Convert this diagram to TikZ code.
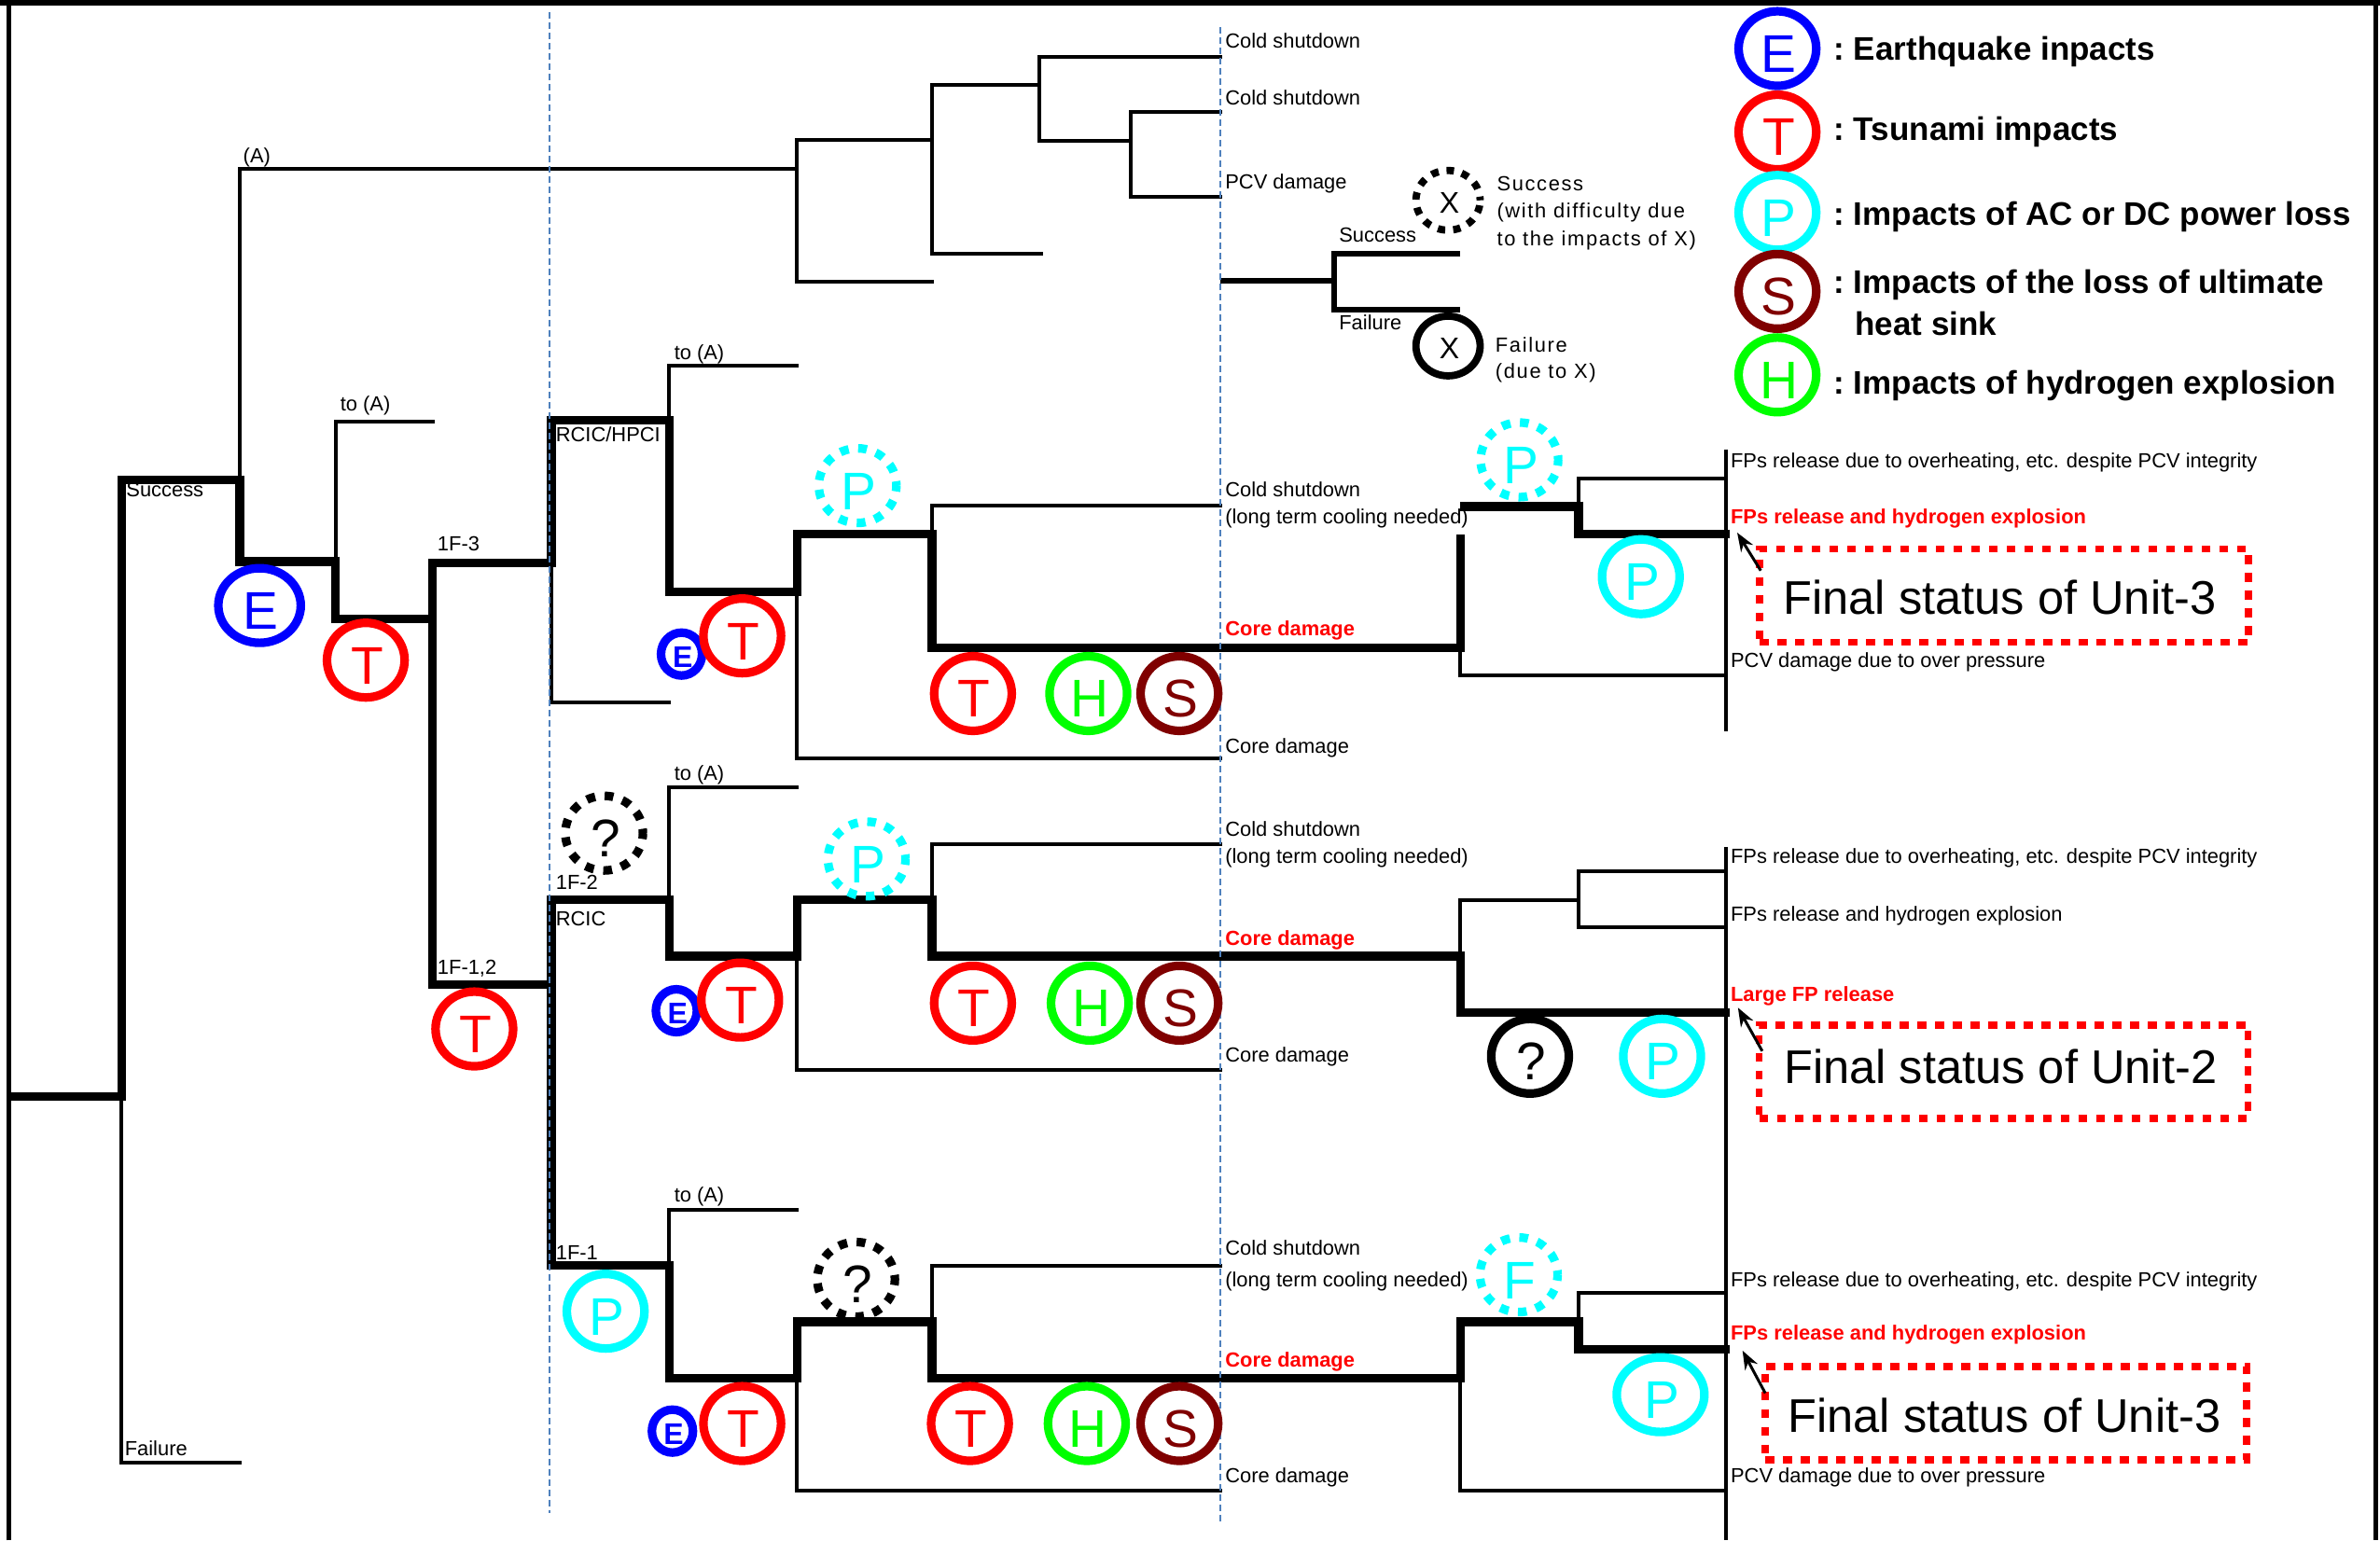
\documentclass[tikz,border=0pt]{standalone}
\usepackage{fontspec}
\setmainfont{Liberation Sans}
\newfontfamily\widefont[LetterSpace=7.5]{Liberation Sans}
\usetikzlibrary{shapes.geometric,arrows.meta}
\def\uu{0.8135pt}
\definecolor{cE}{RGB}{0,0,255}
\definecolor{cT}{RGB}{255,0,0}
\definecolor{cP}{RGB}{0,255,255}
\definecolor{cS}{RGB}{128,0,0}
\definecolor{cH}{RGB}{0,255,0}
\definecolor{guide}{RGB}{79,129,189}
\tikzset{
  tl/.style={line width=2pt,line cap=rect,line join=miter},
  tk/.style={line width=4.6pt,line cap=rect,line join=miter},
  evbase/.style={ellipse,inner sep=0pt,outer sep=0pt,line width=4.6pt,minimum width=41.6pt,minimum height=40pt,text height=25.4pt,text depth=0pt,font=\fontsize{28.4}{28.4}\selectfont,execute at begin node={\hspace*{1.4pt}}},
  ev/.style={evbase,draw=#1,text=#1},
  evd/.style={evbase,draw=#1,text=#1,dash pattern=on 4.7pt off 5.1pt,dash phase=2.35pt},
  evs/.style={ev=cE,line width=4.6pt,minimum width=22pt,minimum height=23pt,text height=14pt,font=\fontsize{16}{16}\selectfont\bfseries,execute at begin node={}},
  evx/.style={line width=3.9pt,minimum width=34.4pt,minimum height=32pt,text height=13.5pt,font=\fontsize{16}{16}\selectfont,execute at begin node={}},
  lab/.style={anchor=west,inner sep=0pt,text height=9.1pt,text depth=2.5pt,font=\fontsize{10.95}{11}\selectfont},
  labw/.style={lab,font=\fontsize{10.95}{11}\widefont},
  labr/.style={lab,text=cT,font=\fontsize{10.95}{11}\selectfont\bfseries},
  leg/.style={anchor=west,inner sep=0pt,text height=14.6pt,text depth=4pt,font=\fontsize{17.5}{19}\selectfont\bfseries},
  fin/.style={draw=cT,line width=3.9pt,dash pattern=on 4.8pt off 4.7pt,inner sep=0pt,font=\fontsize{25.3}{27}\selectfont,minimum width=262pt,minimum height=50pt},
  arr/.style={-{Stealth[length=10pt,width=7.5pt]},line width=1.5pt},
  guideline/.style={guide,line width=0.7pt,dash pattern=on 3.5pt off 2pt},
  frameline/.style={line width=2.4pt},
}
\begin{document}
\begin{tikzpicture}[x=\uu,y=-\uu]
\useasboundingbox (0,0) rectangle (1568,1015);
\fill[white] (0,0) rectangle (1568,1015);
% frame
\coordinate (fa) at (6,1015); \coordinate (fb) at (6,1.8); \coordinate (fc) at (1565,1.8); \coordinate (fd) at (1565,1015); \coordinate (fe) at (0,1.8); \coordinate (ff) at (1568,1.8);
\draw[frameline] (fa) -- (fb);
\draw[line width=3.1pt] (fe) -- (ff);
\draw[frameline] (fc) -- (fd);
% labels touched by the thick lines
\node[lab] (tS) at (83,323) {Success};
\node[lab] (tRH) at (366,287) {RCIC/HPCI};
% ---- junctions, left part
\coordinate (r0) at (7,722.5); \coordinate (r1) at (80,722.5); \coordinate (r2) at (80,316);
\coordinate (fl) at (80,964); \coordinate (fm) at (158,964);
\coordinate (e0) at (158,316); \coordinate (e1) at (158,370); \coordinate (e2) at (221,370);
\coordinate (a0) at (158,111.5); \coordinate (a1) at (525,111.5);
\coordinate (t0) at (221,408); \coordinate (t1) at (285,408); \coordinate (t2) at (221,278); \coordinate (t3) at (285,278);
\coordinate (u3a) at (285,371); \coordinate (u3b) at (363.3,371);
\coordinate (u12a) at (285,649); \coordinate (u12b) at (363.3,649);
\coordinate (u2a) at (363.3,593); \coordinate (u1a) at (363.3,834);
\draw[tl] (r1) -- (fl) -- (fm);
\draw[tl] (e0) -- (a0) -- (a1);
\draw[tl] (e2) -- (t2) -- (t3);
\draw[tk] (r0) -- (r1) -- (r2) -- (e0) -- (e1) -- (e2) -- (t0) -- (t1);
\draw[tk] (u3b) -- (u3a) -- (u12a) -- (u12b);
\draw[tk] (u2a) -- (u1a);
% ---- top branch
\coordinate (b0) at (525,92.3); \coordinate (b1) at (525,185.5); \coordinate (b2) at (614,185.5); \coordinate (b3) at (614,92.3);
\coordinate (c0) at (614,55.7); \coordinate (c1) at (614,167); \coordinate (c2) at (686,167); \coordinate (c3) at (685,55.7);
\coordinate (d0) at (685,37.3); \coordinate (d1) at (804,37.3); \coordinate (d2) at (685,92.6); \coordinate (d3) at (745,92.6);
\coordinate (d4) at (745,74); \coordinate (d5) at (804,74); \coordinate (d6) at (745,130); \coordinate (d7) at (804,130);
\draw[tl] (b2) -- (b1) -- (b0) -- (b3);
\draw[tl] (c3) -- (c0) -- (c1) -- (c2);
\draw[tl] (d1) -- (d0) -- (d2) -- (d3);
\draw[tl] (d5) -- (d4) -- (d6) -- (d7);
\coordinate (x0) at (804,185); \coordinate (x1) at (879,185); \coordinate (x2) at (879,167); \coordinate (x3) at (962,167); \coordinate (x4) at (879,204); \coordinate (x5) at (962,204);
\draw[line width=3pt,line cap=butt] (x0) -- (x1);
\draw[line width=3pt,line cap=butt,line join=miter] (x3) -- (x2) -- (x4) -- (x5);
% ---- unit 3 (1F-3)
\coordinate (f0) at (363.3,277); \coordinate (f1) at (441,277); \coordinate (f2) at (441,390); \coordinate (f3) at (525,390);
\coordinate (f4) at (441,241); \coordinate (f5) at (525,241); \coordinate (f6) at (363.3,463); \coordinate (f7) at (441,463);
\coordinate (g0) at (525,352); \coordinate (g1) at (614,352); \coordinate (g2) at (614,427); \coordinate (g3) at (962,427);
\coordinate (g4) at (525,500); \coordinate (g5) at (804,500); \coordinate (g6) at (614,333); \coordinate (g7) at (804,333);
\coordinate (h0) at (962,355); \coordinate (h1) at (965,333.8); \coordinate (h2) at (1040,333.8); \coordinate (h3) at (1040,352); \coordinate (h4) at (1137,352);
\coordinate (h5) at (1040,315.3); \coordinate (h6) at (1137,315.3); \coordinate (h7) at (962,445); \coordinate (h8) at (1137,445);
\coordinate (v0) at (1137,296); \coordinate (v1) at (1137,482);
\draw[tl] (f1) -- (f4) -- (f5);
\draw[tl] (u3b) -- (f6) -- (f7);
\draw[tl] (f3) -- (g4) -- (g5);
\draw[tl] (g1) -- (g6) -- (g7);
\draw[tl] (g3) -- (h7) -- (h8);
\draw[tl] (h2) -- (h5) -- (h6);
\draw[tk] (u3b) -- (f0) -- (f1) -- (f2) -- (f3) -- (g0) -- (g1) -- (g2) -- (g3) -- (h0);
\draw[tk] (h1) -- (h2) -- (h3) -- (h4);
\draw[line width=2pt] (v0) -- (v1);
% ---- unit 2
\coordinate (k0) at (441,593); \coordinate (k1) at (441,630); \coordinate (k2) at (525,630); \coordinate (k3) at (441,519); \coordinate (k4) at (525,519);
\coordinate (l0) at (525,593); \coordinate (l1) at (614,593); \coordinate (l2) at (614,630); \coordinate (l3) at (962,630); \coordinate (l4) at (525,705); \coordinate (l5) at (804,705);
\coordinate (l6) at (614,556); \coordinate (l7) at (804,556);
\coordinate (m0) at (962,667); \coordinate (m1) at (1137,667); \coordinate (m2) at (962,593); \coordinate (m3) at (1040,593);
\coordinate (m4) at (1040,574); \coordinate (m5) at (1137,574); \coordinate (m6) at (1040,611); \coordinate (m7) at (1137,611);
\coordinate (v2) at (1137,558); \coordinate (v3) at (1137,1015);
\draw[tl] (k0) -- (k3) -- (k4);
\draw[tl] (k2) -- (l4) -- (l5);
\draw[tl] (l1) -- (l6) -- (l7);
\draw[tl] (l3) -- (m2) -- (m3);
\draw[tl] (m5) -- (m4) -- (m6) -- (m7);
\draw[tk] (u2a) -- (k0) -- (k1) -- (k2) -- (l0) -- (l1) -- (l2) -- (l3) -- (m0) -- (m1);
\draw[line width=2pt] (v2) -- (v3);
% ---- unit 1
\coordinate (n0) at (441,834); \coordinate (n1) at (441,908); \coordinate (n2) at (525,908); \coordinate (n3) at (441,797); \coordinate (n4) at (525,797);
\coordinate (o0) at (525,871); \coordinate (o1) at (614,871); \coordinate (o2) at (614,908); \coordinate (o3) at (962,908); \coordinate (o4) at (525,982); \coordinate (o5) at (804,982);
\coordinate (o6) at (614,834); \coordinate (o7) at (804,834);
\coordinate (q0) at (962,871); \coordinate (q1) at (1040,871); \coordinate (q2) at (1040,889); \coordinate (q3) at (1137,889);
\coordinate (q4) at (1040,852); \coordinate (q5) at (1137,852); \coordinate (q6) at (962,982); \coordinate (q7) at (1137,982);
\draw[tl] (n0) -- (n3) -- (n4);
\draw[tl] (n2) -- (o4) -- (o5);
\draw[tl] (o1) -- (o6) -- (o7);
\draw[tl] (o3) -- (q6) -- (q7);
\draw[tl] (q1) -- (q4) -- (q5);
\draw[tk] (u1a) -- (n0) -- (n1) -- (n2) -- (o0) -- (o1) -- (o2) -- (o3) -- (q0) -- (q1) -- (q2) -- (q3);
% guides, above the tree
\coordinate (ga) at (362,8); \coordinate (gb) at (362,997); \coordinate (gc) at (804,18); \coordinate (gd) at (804,1005);
\draw[guideline] (ga) -- (gb);
\draw[guideline] (gc) -- (gd);
% ---- event circles
\node[ev=cE,minimum width=44.2pt] (E1) at (171,399) {E};
\node[ev=cT] (T1) at (241,435) {T};
\node[ev=cT] (T2) at (312.5,678) {T};
\node[evs] (E3a) at (449,431) {E};
\node[ev=cT] (T3a) at (489,419) {T};
\node[evd=cP] (P3a) at (565,320) {P};
\node[ev=cT] (T3b) at (641,457) {T};
\node[ev=cH] (H3) at (717,457) {H};
\node[ev=cS] (S3) at (777,457) {S};
\node[evd=cP] (P3b) at (1001,303) {P};
\node[ev=cP] (P3c) at (1081,380) {P};
\node[evd=black] (Q2a) at (398,549) {?};
\node[evs] (E2a) at (445.6,666) {E};
\node[ev=cT] (T2a) at (487.6,659) {T};
\node[evd=cP] (P2a) at (571,566) {P};
\node[ev=cT] (T2b) at (641,661) {T};
\node[ev=cH] (H2) at (718,661) {H};
\node[ev=cS] (S2) at (777,661) {S};
\node[ev=black] (Q2b) at (1008,696) {?};
\node[ev=cP] (P2b) at (1095,696) {P};
\node[ev=cP] (P1a) at (399,864) {P};
\node[evs] (E1a) at (443,943) {E};
\node[ev=cT] (T1a) at (489,938) {T};
\node[evd=black] (Q1a) at (564,843) {?};
\node[ev=cT] (T1b) at (639,938) {T};
\node[ev=cH] (H1) at (716,938) {H};
\node[ev=cS] (S1) at (777,938) {S};
\node[evd=cP] (P1b) at (1000.6,840) {F};
\node[ev=cP,minimum width=47pt] (P1c) at (1094,919) {P};
\node[evd=black,evx,dash pattern=on 4pt off 4.3pt,dash phase=2pt] (Xd) at (954,132) {X};
\node[ev=black,evx] (Xs) at (954,228) {X};
% ---- legend
\node[ev=cE] (LE) at (1171,32) {E};
\node[ev=cT] (LT) at (1171,87) {T};
\node[ev=cP] (LP) at (1171,140) {P};
\node[ev=cS] (LS) at (1171,192) {S};
\node[ev=cH] (LH) at (1171,247) {H};
\node[leg] (L1) at (1208,33.4) {:\hspace{4.8pt}Earthquake inpacts};
\node[leg] (L2) at (1208,86.1) {:\hspace{4.8pt}Tsunami impacts};
\node[leg] (L3) at (1208,142) {:\hspace{4.8pt}Impacts of AC or DC power loss};
\node[leg] (L4) at (1208,187) {:\hspace{4.8pt}Impacts of the loss of ultimate};
\node[leg] (L5) at (1222,214.6) {heat sink};
\node[leg] (L6) at (1208,253) {:\hspace{4.8pt}Impacts of hydrogen explosion};
% ---- labels
\node[lab] (tA) at (160,103) {(A)};
\node[lab] (tAa) at (224,267) {to (A)};
\node[lab] (tF) at (82,955) {Failure};
\node[lab] (t13) at (288,359) {1F-3};
\node[lab] (t112) at (288,638) {1F-1,2};
\node[lab] (tAb) at (444,233) {to (A)};
\node[lab] (tAc) at (444,510) {to (A)};
\node[lab] (tAd) at (444,788) {to (A)};
\node[lab] (t12) at (366,582) {1F-2};
\node[lab] (tR) at (366,606) {RCIC};
\node[lab] (t11) at (366,826) {1F-1};
\node[lab] (c1t) at (807,27.8) {Cold shutdown};
\node[lab] (c2t) at (807,65.2) {Cold shutdown};
\node[lab] (c3t) at (807,120.6) {PCV damage};
\node[lab] (sx) at (882,155.5) {Success};
\node[lab] (fx) at (882,213.4) {Failure};
\node[labw] (ss1) at (986,121.6) {Success};
\node[labw] (ss2) at (986,139.6) {(with difficulty due};
\node[labw] (ss3) at (986,157.8) {to the impacts of X)};
\node[labw] (ff1) at (985,227.7) {Failure};
\node[labw] (ff2) at (985,245) {(due to X)};
\node[lab] (a1t) at (807,323) {Cold shutdown};
\node[lab] (a2t) at (807,341) {(long term cooling needed)};
\node[labr] (a3t) at (807,415) {Core damage};
\node[lab] (a4t) at (807,492) {Core damage};
\node[lab] (b1t) at (807,547) {Cold shutdown};
\node[lab] (b2t) at (807,565) {(long term cooling needed)};
\node[labr] (b3t) at (807,619) {Core damage};
\node[lab] (b4t) at (807,696) {Core damage};
\node[lab] (e1t) at (807,823) {Cold shutdown};
\node[lab] (e2t) at (807,844) {(long term cooling needed)};
\node[labr] (e3t) at (807,897) {Core damage};
\node[lab] (e4t) at (807,973) {Core damage};
\node[lab] (p1) at (1140,304) {FPs release due to overheating, etc. despite PCV integrity};
\node[labr] (p2) at (1140,341) {FPs release and hydrogen explosion};
\node[lab] (p3) at (1140,436) {PCV damage due to over pressure};
\node[lab] (p4) at (1140,565) {FPs release due to overheating, etc. despite PCV integrity};
\node[lab] (p5) at (1140,603) {FPs release and hydrogen explosion};
\node[labr] (p6) at (1140,656) {Large FP release};
\node[lab] (p7) at (1140,844) {FPs release due to overheating, etc. despite PCV integrity};
\node[labr] (p8) at (1140,879) {FPs release and hydrogen explosion};
\node[lab] (p9) at (1140,973) {PCV damage due to over pressure};
% ---- final boxes
\node[fin,text height=20pt,text depth=0.4pt] (F3a) at (1320.5,392.5) {Final status of Unit-3\kern5pt};
\node[fin,text height=13.6pt,text depth=0.4pt] (F2) at (1320,706) {Final status of Unit-2\kern3.3pt};
\node[fin,minimum width=258pt,text height=21.6pt,text depth=0.4pt] (F3b) at (1321.5,931) {Final status of Unit-3\kern1.6pt};
\coordinate (a3s) at (1160,376); \coordinate (a4s) at (1161,692.6); \coordinate (a5s) at (1163,918);
\coordinate (a3) at (1144.5,351); \coordinate (a4) at (1145,664); \coordinate (a5) at (1148,890);
\draw[arr] (a3s) -- (a3);
\draw[arr] (a4s) -- (a4);
\draw[arr] (a5s) -- (a5);
\end{tikzpicture}
\end{document}
